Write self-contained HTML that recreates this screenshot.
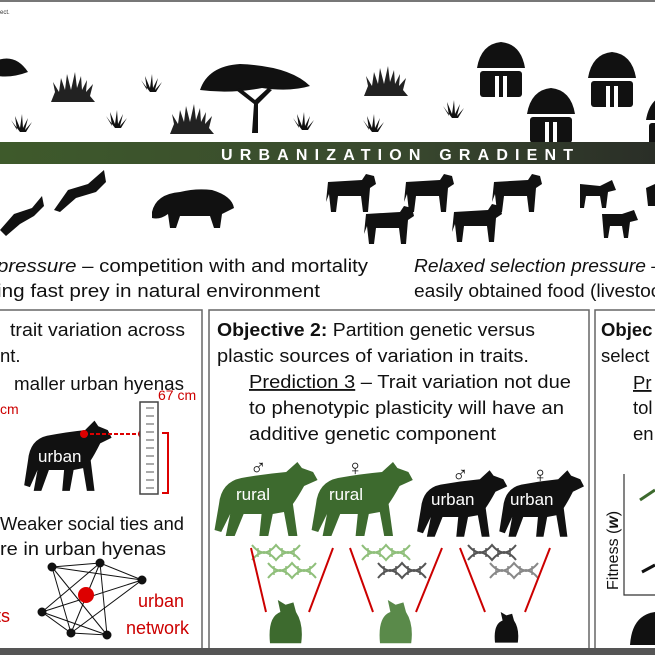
<!DOCTYPE html>
<html><head><meta charset="utf-8"><style>
html,body{margin:0;padding:0;background:#fff;}
svg{display:block;font-family:"Liberation Sans",sans-serif;}
</style></head><body>
<svg width="655" height="655" viewBox="0 0 655 655">
<defs>
<g id="grass"><path d="M0 14 L-9 2 L-3 12 L-5 -2 L0 10 L2 -4 L3 10 L8 0 L5 12 L12 4 L6 14 Z" fill="#111"/></g>
<g id="biggrass"><path d="M-22 24 L-18 14 L-20 4 L-14 14 L-12 0 L-8 12 L-6 -4 L-2 12 L2 -6 L4 10 L8 -2 L9 12 L14 2 L13 14 L20 6 L17 18 L22 24 Z" fill="#222"/></g>
<g id="hut"><path d="M-24 22 Q-20 -2 0 -4 Q20 -2 24 22 Z" fill="#111"/><rect x="-22" y="22" width="44" height="3" fill="#fff"/><rect x="-21" y="25" width="42" height="26" rx="3" fill="#111"/><rect x="-6" y="30" width="4" height="21" fill="#fff"/><rect x="2" y="30" width="4" height="21" fill="#fff"/></g>
<g id="hyena"><path d="M0 30 Q2 8 20 4 Q40 0 60 -2 L70 -12 L74 -6 L84 -2 L88 6 L76 12 Q70 24 66 30 L70 62 L62 62 L58 38 L48 40 L44 62 L36 62 L38 40 L22 40 L14 62 L6 62 L10 40 L2 58 L-4 56 Z"/></g>
<g id="cow"><path d="M0 6 L34 4 L38 -2 L46 0 L48 8 L42 12 L40 36 L35 36 L33 20 L10 20 L8 36 L3 36 L1 18 L-2 26 Z" fill="#111"/></g>
<g id="cub"><path d="M0 36 Q-2 14 8 10 L6 0 L12 4 L18 2 L20 10 Q26 20 24 36 Z"/></g>
<g id="dna"><path d="M0 0 Q12 15 24 0 Q36 15 48 0 M0 15 Q12 0 24 15 Q36 0 48 15" fill="none" stroke-width="2"/><path d="M6 3v9M12 6v3M18 3v9M30 3v9M36 6v3M42 3v9" stroke-width="1.5"/></g>
</defs>
<rect x="0" y="0" width="655" height="2" fill="#777"/>
<text x="0" y="14" font-size="6" fill="#333">ect.</text>
<!-- landscape -->
<g>
<path d="M-2 60 Q16 54 28 72 Q12 78 -2 76 Z" fill="#111"/>
<g fill="#111"><path d="M200 90 Q208 66 240 64 Q290 66 310 86 Q290 92 262 88 Q230 94 200 90 Z"/><path d="M252 133 L254 104 L236 90 L240 88 L255 100 L268 88 L272 90 L258 104 L258 133 Z"/></g>
<use href="#biggrass" x="73" y="78"/><use href="#biggrass" x="192" y="110"/><use href="#biggrass" x="386" y="72"/>
<use href="#grass" x="150" y="78"/><use href="#grass" x="20" y="118"/><use href="#grass" x="115" y="114"/><use href="#grass" x="302" y="116"/><use href="#grass" x="372" y="118"/><use href="#grass" x="452" y="104"/>
<use href="#hut" x="501" y="46"/><use href="#hut" x="612" y="56"/><use href="#hut" x="551" y="92"/><use href="#hut" x="670" y="98"/>
</g>
<!-- gradient bar -->
<defs><linearGradient id="gb" x1="0" x2="1"><stop offset="0" stop-color="#3e5a2b"/><stop offset="0.6" stop-color="#39492e"/><stop offset="1" stop-color="#2a2e27"/></linearGradient></defs>
<rect x="0" y="142" width="655" height="22" fill="url(#gb)"/>
<text x="221" y="160" font-size="16" font-weight="bold" fill="#fff" textLength="352" lengthAdjust="spacing">URBANIZATION  GRADIENT</text>
<!-- animals -->
<g fill="#111">
<path d="M0 230 L14 214 L32 208 L42 196 L44 206 L34 216 L20 224 L6 236 Z"/>
<path d="M54 210 L68 190 L88 184 L104 170 L106 182 L96 192 L76 198 L60 212 Z"/>
<path d="M152 212 Q156 194 180 192 Q196 188 212 190 Q232 196 234 208 L222 214 L220 228 L214 228 L210 216 L180 216 L176 228 L170 228 L168 214 Q160 220 152 218 Z"/>
</g>
<g>
<use href="#cow" x="328" y="176"/><use href="#cow" x="406" y="176"/><use href="#cow" x="494" y="176"/><use href="#cow" x="366" y="208"/><use href="#cow" x="454" y="206"/>
<path d="M580 184 L600 186 L612 180 L616 190 L608 192 L606 208 L602 208 L600 196 L586 196 L584 208 L580 208 Z" fill="#111"/>
<path d="M602 214 L622 214 L634 210 L638 220 L630 222 L628 238 L624 238 L622 226 L610 226 L608 238 L604 238 Z" fill="#111"/>
<path d="M646 188 L655 184 L655 206 L648 206 Z" fill="#111"/>
</g>
<g font-size="18.5" fill="#111">
<text x="-3" y="272" textLength="371" lengthAdjust="spacingAndGlyphs"><tspan font-style="italic">pressure</tspan> – competition with and mortality</text>
<text x="-3" y="297" textLength="323" lengthAdjust="spacingAndGlyphs">ing fast prey in natural environment</text>
<text x="414" y="272" font-style="italic" textLength="248" lengthAdjust="spacingAndGlyphs">Relaxed selection pressure –</text>
<text x="414" y="297" textLength="256" lengthAdjust="spacingAndGlyphs">easily obtained food (livestock</text>
</g>
<!-- boxes -->
<rect x="-2" y="310" width="204" height="339" fill="none" stroke="#666" stroke-width="1.5"/>
<rect x="209" y="310" width="380" height="339" fill="none" stroke="#666" stroke-width="1.5"/>
<rect x="595" y="310" width="62" height="339" fill="none" stroke="#666" stroke-width="1.5"/>
<rect x="0" y="648" width="655" height="7" fill="#555"/>
<!-- objective 1 -->
<g font-size="18.5" fill="#111">
<text x="10" y="336" textLength="175" lengthAdjust="spacingAndGlyphs">trait variation across</text>
<text x="0" y="362">nt.</text>
<text x="14" y="390" textLength="170" lengthAdjust="spacingAndGlyphs">maller urban hyenas</text>
<text x="0" y="530" textLength="184" lengthAdjust="spacingAndGlyphs">Weaker social ties and</text>
<text x="0" y="555" textLength="166" lengthAdjust="spacingAndGlyphs">re in urban hyenas</text>
</g>
<text x="0" y="414" font-size="14" fill="#c00">cm</text>
<g fill="#111"><use href="#hyena" transform="translate(28,432) scale(0.95,0.95)"/></g>
<text x="38" y="462" font-size="17" fill="#fff">urban</text>
<line x1="84" y1="434" x2="142" y2="434" stroke="#d00" stroke-width="2" stroke-dasharray="4,2"/>
<circle cx="84" cy="434" r="4" fill="#d00"/><circle cx="142" cy="434" r="4" fill="#d00"/>
<rect x="140" y="402" width="18" height="92" fill="#fff" stroke="#444" stroke-width="1.5"/>
<path d="M146 408h8M146 416h8M146 424h8M146 432h8M146 440h8M146 448h8M146 456h8M146 464h8M146 472h8M146 480h8M146 488h8" stroke="#555"/>
<path d="M162 433h6v60h-6" fill="none" stroke="#d00" stroke-width="2"/>
<text x="158" y="400" font-size="14" fill="#c00">67 cm</text>
<g stroke="#111" stroke-width="1">
<path d="M52 567L100 563L142 580L42 612L71 633L107 635Z M52 567L107 635 M52 567L71 633 M52 567L142 580 M100 563L42 612 M100 563L71 633 M100 563L107 635 M142 580L71 633 M42 612L142 580 M42 612L107 635" fill="none"/>
<g fill="#111"><circle cx="52" cy="567" r="4"/><circle cx="100" cy="563" r="4"/><circle cx="142" cy="580" r="4"/><circle cx="42" cy="612" r="4"/><circle cx="71" cy="633" r="4"/><circle cx="107" cy="635" r="4"/></g>
<circle cx="86" cy="595" r="8" fill="#d00" stroke="none"/>
</g>
<text x="138" y="607" font-size="18" fill="#c00">urban</text>
<text x="126" y="634" font-size="18" fill="#c00">network</text>
<text x="-4" y="622" font-size="18" fill="#c00">ts</text>
<!-- objective 2 -->
<g font-size="18.5" fill="#111">
<text x="217" y="336" textLength="318" lengthAdjust="spacingAndGlyphs"><tspan font-weight="bold">Objective 2:</tspan> Partition genetic versus</text>
<text x="217" y="362" textLength="312" lengthAdjust="spacingAndGlyphs">plastic sources of variation in traits.</text>
<text x="249" y="388" textLength="322" lengthAdjust="spacingAndGlyphs"><tspan text-decoration="underline">Prediction 3</tspan> – Trait variation not due</text>
<text x="249" y="414" textLength="315" lengthAdjust="spacingAndGlyphs">to phenotypic plasticity will have an</text>
<text x="249" y="440" textLength="247" lengthAdjust="spacingAndGlyphs">additive genetic component</text>
</g>
<g>
<use href="#hyena" transform="translate(219,474) scale(1.12,1.0)" fill="#3d6a2e"/>
<use href="#hyena" transform="translate(316,474) scale(1.1,1.0)" fill="#3d6a2e"/>
<use href="#hyena" transform="translate(421,481) scale(0.98,0.9)" fill="#111"/>
<use href="#hyena" transform="translate(503,481) scale(0.92,0.9)" fill="#111"/>
</g>
<g font-size="17" fill="#fff">
<text x="236" y="500">rural</text><text x="329" y="500">rural</text><text x="431" y="505">urban</text><text x="510" y="505">urban</text>
</g>
<g font-size="22" fill="#111">
<text x="250" y="475">♂</text><text x="347" y="475">♀</text><text x="452" y="482">♂</text><text x="532" y="482">♀</text>
</g>
<g>
<use href="#dna" x="252" y="545" stroke="#8fbf7a"/><use href="#dna" x="268" y="563" stroke="#8fbf7a"/>
<use href="#dna" x="362" y="545" stroke="#8fbf7a"/><use href="#dna" x="378" y="563" stroke="#555"/>
<use href="#dna" x="468" y="545" stroke="#555"/><use href="#dna" x="490" y="563" stroke="#888"/>
</g>
<g stroke="#c00" stroke-width="2">
<path d="M251 548L266 612M333 548L309 612M350 548L373 612M442 548L416 612M460 548L485 612M550 548L525 612"/>
</g>
<g>
<use href="#cub" transform="translate(270,600) scale(1.3,1.2)" fill="#3d6a2e"/>
<use href="#cub" transform="translate(380,600) scale(1.3,1.2)" fill="#5a8a4a"/>
<use href="#cub" transform="translate(495,612) scale(0.95,0.85)" fill="#111"/>
</g>
<!-- objective 3 -->
<g font-size="18.5" fill="#111">
<text x="601" y="336" font-weight="bold">Objec</text>
<text x="601" y="362">select</text>
<text x="633" y="389" text-decoration="underline">Pr</text>
<text x="633" y="414">tol</text>
<text x="633" y="440">en</text>
</g>
<path d="M624 474V595H655" fill="none" stroke="#333" stroke-width="1.2"/>
<text transform="translate(618,590) rotate(-90)" font-size="16" fill="#111">Fitness (<tspan font-weight="bold" font-style="italic">w</tspan>)</text>
<path d="M640 500L655 490" stroke="#3d6a2e" stroke-width="3"/><path d="M642 572L655 565" stroke="#111" stroke-width="3"/>
<path d="M630 645Q632 615 655 612V645Z" fill="#111"/>
</svg>
</body></html>
